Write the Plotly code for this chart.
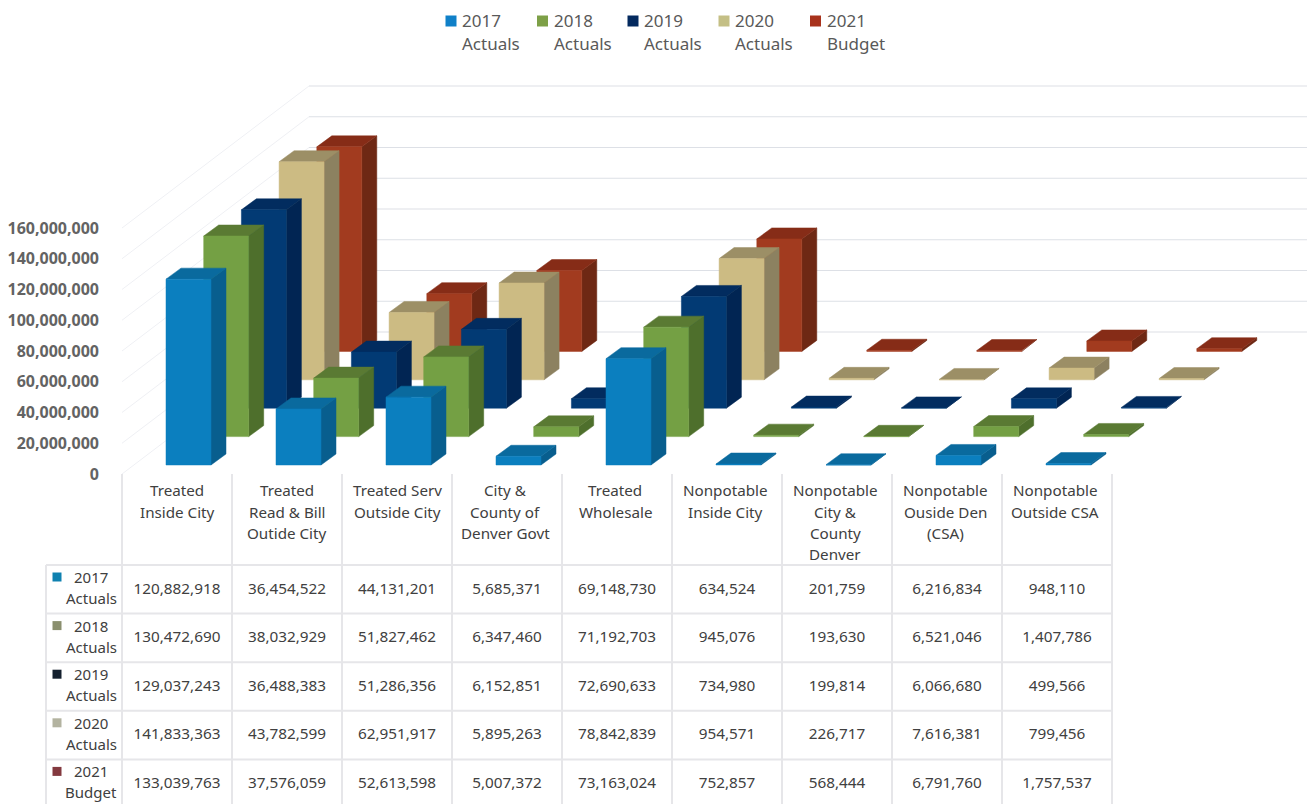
import plotly.graph_objects as go

categories = ["Treated\nInside City", "Treated\nRead & Bill\nOutide City", "Treated Serv\nOutside City",
              "City &\nCounty of\nDenver Govt", "Treated\nWholesale", "Nonpotable\nInside City",
              "Nonpotable\nCity &\nCounty\nDenver", "Nonpotable\nOuside Den\n(CSA)", "Nonpotable\nOutside CSA"]
series_names = ["2017\nActuals", "2018\nActuals", "2019\nActuals", "2020\nActuals", "2021\nBudget"]
v2017 = [120882918, 36454522, 44131201, 5685371, 69148730, 634524, 201759, 6216834, 948110]
v2018 = [130472690, 38032929, 51827462, 6347460, 71192703, 945076, 193630, 6521046, 1407786]
v2019 = [129037243, 36488383, 51286356, 6152851, 72690633, 734980, 199814, 6066680, 499566]
v2020 = [141833363, 43782599, 62951917, 5895263, 78842839, 954571, 226717, 7616381, 799456]
v2021 = [133039763, 37576059, 52613598, 5007372, 73163024, 752857, 568444, 6791760, 1757537]
series_values = [v2017, v2018, v2019, v2020, v2021]
tick_values = [0, 20000000, 40000000, 60000000, 80000000, 100000000, 120000000, 140000000, 160000000]

front_colors = ["#0B7FBF", "#74A044", "#023A74", "#CCBB83", "#A23B1F"]
side_colors = ["#085E8E", "#4E6F2C", "#012553", "#8C8160", "#6E2814"]
top_colors = ["#0A6A9E", "#5A7A33", "#022C5F", "#9C8F66", "#862C17"]
legend_colors = ["#0F80C8", "#7DA047", "#03295E", "#C4BF85", "#A8321C"]
key_colors = ["#0F81B0", "#8A8F6E", "#14202E", "#B3B3A0", "#83393F"]

W, H = 1307, 804
LEFT = 105
PX_PER_UNIT = 1.5375e-6
ZERO_PY = 474
CAT_W = 110
COL0_PX = 177

x_range = [(LEFT - COL0_PX) / CAT_W, (W - COL0_PX) / CAT_W]
y_range = [(ZERO_PY - H) / PX_PER_UNIT, ZERO_PY / PX_PER_UNIT]


def dx(px):
    return px / CAT_W


def dy(px):
    return px / PX_PER_UNIT


def col_px(px):
    return (px - COL0_PX) / CAT_W


def row_val(py):
    return (ZERO_PY - py) / PX_PER_UNIT


def paper_x(px):
    return (px - LEFT) / (W - LEFT)


def paper_y(py):
    return 1 - py / H


fig = go.Figure()

# back wall grid
diag_x, diag_y, back_x, back_y = [], [], [], []
for v in tick_values:
    diag_x += [col_px(122), col_px(309), None]
    diag_y += [v, v + dy(142), None]
    back_x += [col_px(309), col_px(W), None]
    back_y += [v + dy(142), v + dy(142), None]
fig.add_trace(go.Scatter(x=diag_x, y=diag_y, mode="lines", line=dict(color="#EFF0F4", width=1),
                         hoverinfo="skip", showlegend=False))
fig.add_trace(go.Scatter(x=back_x, y=back_y, mode="lines", line=dict(color="#DDE0E6", width=1.2),
                         hoverinfo="skip", showlegend=False))

# 3D columns
BAR_X0, BAR_W = -11, 45
DEPTH_X, DEPTH_Y = 15, 11
STEP_X, STEP_Y = 37.7, 28.4
BASE_PY = 9


def polys(values, s, face):
    xs, ys = [], []
    for c, v in enumerate(values):
        x0 = c + dx(BAR_X0 + s * STEP_X)
        x1 = x0 + dx(BAR_W)
        b = dy(BASE_PY) + dy(s * STEP_Y)
        t = b + v
        ox, oy = dx(DEPTH_X), dy(DEPTH_Y)
        if face == "front":
            xs += [x0, x1, x1, x0, x0, None]
            ys += [b, b, t, t, b, None]
        elif face == "side":
            xs += [x1, x1 + ox, x1 + ox, x1, x1, None]
            ys += [b, b + oy, t + oy, t, b, None]
        else:
            xs += [x0, x1, x1 + ox, x0 + ox, x0, None]
            ys += [t, t, t + oy, t + oy, t, None]
    return xs, ys


for s in reversed(range(5)):
    for face, col in (("side", side_colors[s]), ("top", top_colors[s]), ("front", front_colors[s])):
        xs, ys = polys(series_values[s], s, face)
        fig.add_trace(go.Scatter(x=xs, y=ys, mode="lines", fill="toself", fillcolor=col,
                                 line=dict(color=col, width=0.5), name=series_names[s].replace("\n", " "),
                                 hoverinfo="skip", showlegend=False))

# data table grid
ROW_TOP = 565
ROW_H = 48.6
TABLE_TOP = 474
GRID_COLOR = "#E6E6E9"
n_cat = len(categories)
gx, gy = [], []
for k in range(n_cat + 1):
    gx += [col_px(122 + CAT_W * k), col_px(122 + CAT_W * k), None]
    gy += [row_val(TABLE_TOP), row_val(H), None]
for r in range(5):
    py = ROW_TOP + ROW_H * r
    gx += [col_px(122), col_px(122 + CAT_W * n_cat), None]
    gy += [row_val(py), row_val(py), None]
fig.add_trace(go.Scatter(x=gx, y=gy, mode="lines", line=dict(color=GRID_COLOR, width=2),
                         hoverinfo="skip", showlegend=False, cliponaxis=False))

# table values
for r, vals in enumerate(series_values):
    cy = row_val(ROW_TOP + ROW_H * (r + 0.5) + 0.5)
    fig.add_trace(go.Scatter(x=list(range(n_cat)), y=[cy] * n_cat, mode="text",
                             text=[f"{v:,}" for v in vals], textposition="middle center",
                             textfont=dict(family="Noto Sans", size=15.3, color="#404040"),
                             hoverinfo="skip", showlegend=False, cliponaxis=False))

# legend swatches, table key squares and row-header box
legend_px = [451, 542.5, 633, 724, 815.5]
shapes = []


def square(cx, cy, half, color):
    shapes.append(dict(type="rect", xref="paper", yref="paper",
                       x0=paper_x(cx - half), x1=paper_x(cx + half),
                       y0=paper_y(cy + half), y1=paper_y(cy - half),
                       fillcolor=color, line=dict(width=0)))


def rule(px0, py0, px1, py1):
    shapes.append(dict(type="line", xref="paper", yref="paper",
                       x0=paper_x(px0), x1=paper_x(px1), y0=paper_y(py0), y1=paper_y(py1),
                       line=dict(color=GRID_COLOR, width=2)))


for s in range(5):
    square(legend_px[s], 21, 5.5, legend_colors[s])
    square(57, ROW_TOP + ROW_H * s + 12, 4.5, key_colors[s])
    rule(46, ROW_TOP + ROW_H * s, 122, ROW_TOP + ROW_H * s)
rule(46, ROW_TOP, 46, H)

annotations = []


def label(text, px, py, size, color, xanchor="center"):
    annotations.append(dict(text=text, x=paper_x(px), y=paper_y(py), xref="paper", yref="paper",
                            showarrow=False, xanchor=xanchor, yanchor="middle",
                            font=dict(family="Noto Sans", size=size, color=color)))


for c, cat in enumerate(categories):
    shift = -2 if c >= 3 else 0
    for i, line in enumerate(cat.split("\n")):
        label(line, COL0_PX + CAT_W * c + shift, 490.5 + 21.3 * i, 15.2, "#404040")
for r, name in enumerate(series_names):
    for i, line in enumerate(name.split("\n")):
        label(line, 91, ROW_TOP + ROW_H * r + 12 + 21 * i, 15, "#404040")
        label(line, legend_px[r] + 9, 20 + 24 * i, 17, "#595959", xanchor="left")

fig.update_layout(
    width=W, height=H, autosize=False,
    margin=dict(l=LEFT, r=0, t=0, b=0),
    paper_bgcolor="white", plot_bgcolor="white",
    showlegend=False,
    xaxis=dict(range=x_range, visible=False, fixedrange=True),
    yaxis=dict(range=y_range, showgrid=False, zeroline=False, showline=False, fixedrange=True,
               tickmode="array", tickvals=tick_values, tickformat=",", automargin=False,
               ticklabelstandoff=5,
               tickfont=dict(family="Open Sans", size=16, color="#636363", weight=700)),
    annotations=annotations,
    shapes=shapes,
)

fig.write_html("out.html", config={"displayModeBar": False},
               post_script="document.body.style.margin='0';document.documentElement.style.overflow='hidden';")
